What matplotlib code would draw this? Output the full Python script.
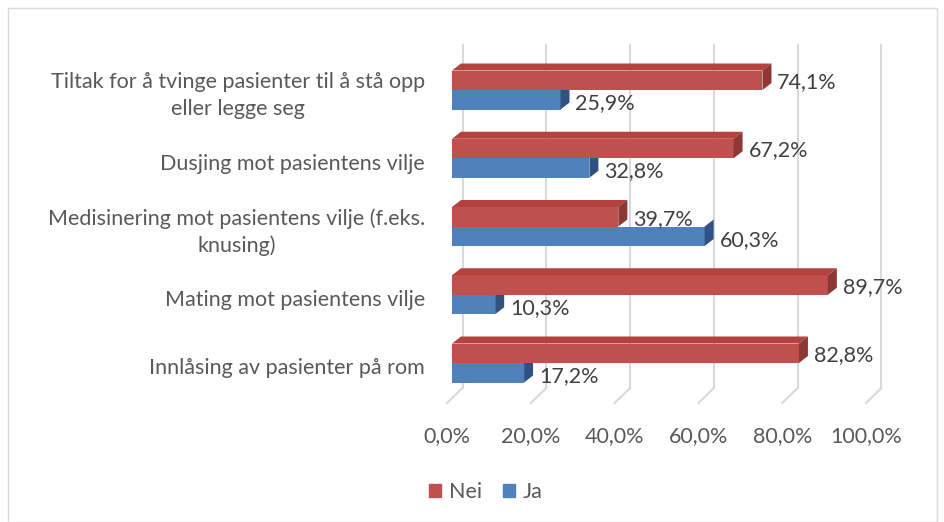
import numpy as np
import matplotlib.pyplot as plt
from matplotlib.patches import Polygon, Rectangle

plt.rcParams['font.family'] = ['Lato', 'DejaVu Sans']

# data
categories = ["Tiltak for å tvinge pasienter til å stå opp\neller legge seg",
              "Dusjing mot pasientens vilje",
              "Medisinering mot pasientens vilje (f.eks.\nknusing)",
              "Mating mot pasientens vilje",
              "Innlåsing av pasienter på rom"]
nei = [74.1, 67.2, 39.7, 89.7, 82.8]
ja = [25.9, 32.8, 60.3, 10.3, 17.2]
ticks = [0, 20, 40, 60, 80, 100]

red, red_top, red_side = "#C0504D", "#B4433F", "#8C3836"
blue, blue_side = "#4F81BD", "#2F5283"
grid_col = "#D9D9D9"
text_col = "#595959"
fs = 15.5

W, H = 944, 522
fig = plt.figure(figsize=(W / 100, H / 100), dpi=100)

# axes: x 0..100 -> px 452..871, y category index
px0, px100 = 452, 871
py_top, py_bot = 40, 400
ax = fig.add_axes([px0 / W, 1 - py_bot / H, (px100 - px0) / W, (py_bot - py_top) / H])
ax.set_xlim(0, 100)
y0, step = 90, 68.25
ax.set_ylim((py_bot - y0) / step, (py_top - y0) / step)
ax.axis('off')

ux = (px100 - px0) / 100.0
dx = 9 / ux          # bar depth in x units
dy = -7 / step       # bar depth in y units
h = 19.5 / step      # bar height

# back gridlines and floor lines
gb = 10.5 / ux
gf = -5 / ux
yg_top = (45 - y0) / step
yg_bot = (388 - y0) / step
yf = (403 - y0) / step
for t in ticks:
    ax.plot([t + gb, t + gb], [yg_top, yg_bot], color=grid_col, lw=1.5, clip_on=False, zorder=0)
    ax.plot([t + gb, t + gf], [yg_bot, yf], color=grid_col, lw=1.5, clip_on=False, zorder=0)
    ax.text(t + gf, (436 - y0) / step, f"{t:.1f}%".replace(".", ","), ha='center', va='center',
            fontsize=fs, color=text_col, clip_on=False)

def bar3d(y_top, v, front, top, side, show_top):
    ax.add_patch(Rectangle((0, y_top), v, h, facecolor=front, edgecolor='none', zorder=3))
    if show_top:
        ax.add_patch(Polygon([(0, y_top), (v, y_top), (v + dx, y_top + dy), (dx, y_top + dy)],
                             facecolor=top, edgecolor='none', zorder=3, clip_on=False))
    ax.add_patch(Polygon([(v, y_top), (v, y_top + h), (v + dx, y_top + h + dy), (v + dx, y_top + dy)],
                         facecolor=side, edgecolor='none', zorder=3, clip_on=False))

for k in range(len(categories)):
    bar3d(k, ja[k], blue, blue, blue_side, False)
    bar3d(k - h, nei[k], red, red_top, red_side, True)
    ax.text(nei[k] + dx + 1.4, k - h / 2 + 0.03, f"{nei[k]:.1f}%".replace(".", ","),
            ha='left', va='center', fontsize=fs, color="#404040")
    ax.text(ja[k] + dx + 1.4, k + h / 2 + 0.05, f"{ja[k]:.1f}%".replace(".", ","),
            ha='left', va='center', fontsize=fs, color="#404040")
    ax.text(-27 / ux, k + 0.08, categories[k], ha='right', va='center', multialignment='center',
            fontsize=fs, color=text_col, linespacing=1.4, clip_on=False)

# legend
fig.legend(handles=[Rectangle((0, 0), 1, 1, color=red), Rectangle((0, 0), 1, 1, color=blue)],
           labels=["Nei", "Ja"], loc='center', bbox_to_anchor=(486 / W, 1 - 492 / H),
           ncol=2, frameon=False, fontsize=fs, handlelength=0.55, handleheight=0.55,
           handletextpad=0.35, columnspacing=1.0, labelcolor=text_col)

# outer chart border
fig.patches.append(Rectangle((8 / W, 0), 929 / W, 1 - 8 / H, transform=fig.transFigure,
                             fill=False, edgecolor="#D9D9D9", lw=1))

fig.savefig("out.png", dpi=100)
